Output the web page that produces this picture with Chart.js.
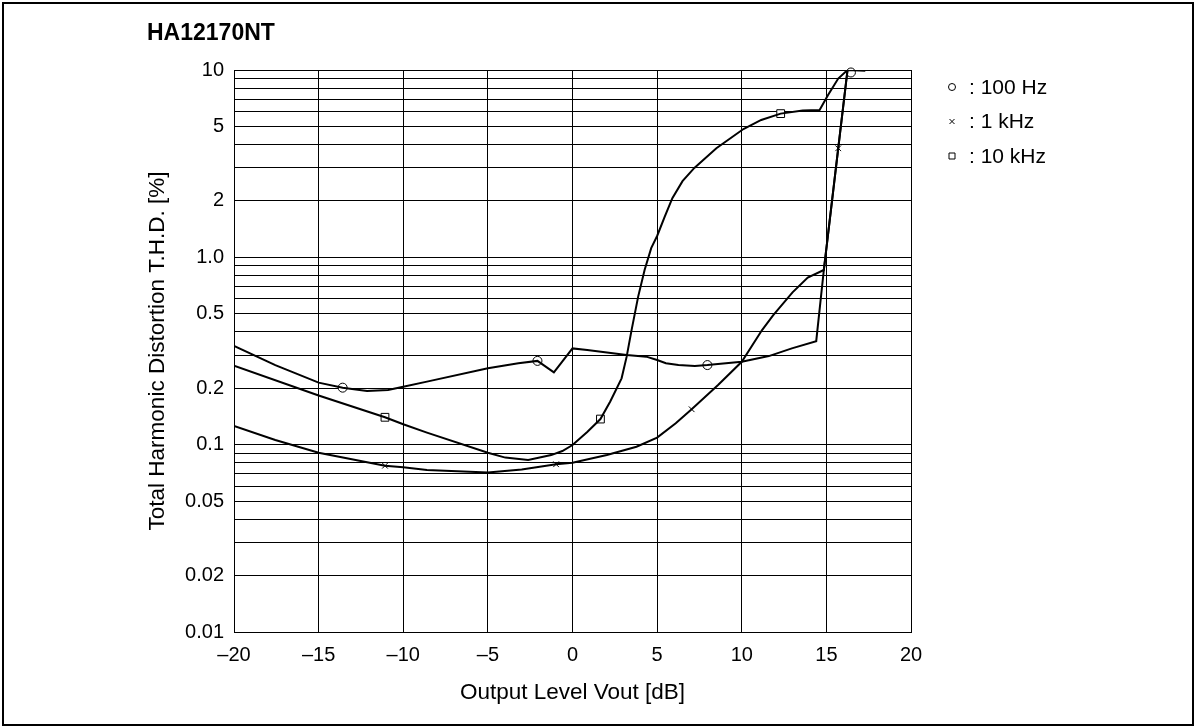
<!DOCTYPE html>
<html>
<head>
<meta charset="utf-8">
<script src="https://cdn.jsdelivr.net/npm/chart.js@4.4.1/dist/chart.umd.min.js"></script>
<style>
  html, body { margin: 0; padding: 0; background: #fff; }
</style>
</head>
<body>
<canvas id="thd" width="1201" height="728"></canvas>
<script>
var chartTitle = "HA12170NT";
var xTitle = "Output Level Vout [dB]";
var yTitle = "Total Harmonic Distortion T.H.D. [%]";

var xTicks = [-20, -15, -10, -5, 0, 5, 10, 15, 20];
var xTickLabels = ["–20", "–15", "–10", "–5", "0", "5", "10", "15", "20"];
var yGrid = [0.01, 0.02, 0.03, 0.04, 0.05, 0.06, 0.07, 0.08, 0.09,
  0.1, 0.2, 0.3, 0.4, 0.5, 0.6, 0.7, 0.8, 0.9,
  1, 2, 3, 4, 5, 6, 7, 8, 9, 10];
var yTicks = [0.01, 0.02, 0.05, 0.1, 0.2, 0.5, 1, 2, 5, 10];
var yTickLabels = ["0.01", "0.02", "0.05", "0.1", "0.2", "0.5", "1.0", "2", "5", "10"];

// curves
var x100 = [-20, -17.56, -15, -13.58, -12.14, -10.9, -10, -8.6, -5, -3.2, -2.07, -1.1, 0, 0.87, 3.2, 4.36, 5, 5.52, 6.26, 7.23, 7.97, 10, 11.6, 12.96, 14.4, 14.85, 15.7, 16.25, 17.3];
var y100 = [0.337, 0.266, 0.2144, 0.2015, 0.1934, 0.196, 0.204, 0.217, 0.2556, 0.272, 0.28, 0.243, 0.3265, 0.32, 0.301, 0.295, 0.283, 0.272, 0.266, 0.263, 0.266, 0.277, 0.297, 0.3265, 0.357, 0.856, 3.82, 10, 9.9];

var x1k = [-20, -17.56, -15, -11.08, -10, -8.6, -5, -3, -0.97, 0, 2.03, 3.78, 5, 6.1, 7.04, 8.6, 10, 11.2, 11.85, 13.0, 13.9, 14.85, 15.7, 16.25];
var y1k = [0.126, 0.106, 0.0906, 0.0772, 0.0757, 0.0732, 0.0711, 0.0738, 0.0786, 0.08, 0.088, 0.0975, 0.109, 0.13, 0.1545, 0.208, 0.277, 0.409, 0.49, 0.65, 0.78, 0.856, 3.82, 10];

var x10k = [-20, -15, -11.08, -10, -8.6, -5, -3.97, -2.62, -1.26, -0.6, 0, 0.87, 1.65, 2.23, 2.9, 3.2, 3.49, 3.88, 4.26, 4.65, 5, 5.45, 5.9, 6.5, 7.2, 8.5, 10.1, 11.15, 12.3, 13.6, 14.6, 15.1, 15.7, 16.25];
var y10k = [0.264, 0.183, 0.14, 0.1285, 0.116, 0.0906, 0.0853, 0.0828, 0.088, 0.0925, 0.0996, 0.117, 0.137, 0.17, 0.226, 0.295, 0.409, 0.617, 0.856, 1.12, 1.3, 1.65, 2.07, 2.55, 3.0, 3.82, 4.84, 5.41, 5.85, 6.07, 6.11, 7.36, 9.0, 10];

// measured points (markers)
var m100x = [-13.58, -2.07, 7.97, 16.45];
var m100y = [0.2015, 0.28, 0.266, 9.7];
var m1kx = [-11.08, -0.97, 7.04, 15.7];
var m1ky = [0.0772, 0.0786, 0.1545, 3.82];
var m10kx = [-11.08, 1.65, 12.3];
var m10ky = [0.14, 0.137, 5.85];

var seriesNames = [": 100 Hz", ": 1 kHz", ": 10 kHz"];

var fontFamily = "'Liberation Sans', Arial, sans-serif";

function pts(xs, ys) {
  return xs.map(function (x, i) { return { x: x, y: ys[i] }; });
}

function curve(xs, ys) {
  return {
    data: pts(xs, ys),
    borderColor: "#000",
    borderWidth: 2,
    pointRadius: 0,
    tension: 0,
    fill: false
  };
}

function markers(xs, ys, label, style, r) {
  return {
    label: label,
    data: pts(xs, ys),
    showLine: false,
    pointStyle: style,
    pointRadius: r,
    pointBorderWidth: 1,
    pointBorderColor: "#000",
    pointBackgroundColor: "#fff",
    clip: false
  };
}

// border, title and legend
var decorPlugin = {
  id: "decor",
  afterDraw: function (chart) {
    var ctx = chart.ctx;
    ctx.save();
    ctx.strokeStyle = "#000";
    ctx.lineWidth = 2;
    ctx.strokeRect(3, 3, 1190, 722);

    ctx.fillStyle = "#000";
    ctx.font = "bold 23px " + fontFamily;
    ctx.textBaseline = "middle";
    ctx.textAlign = "left";
    ctx.fillText(chartTitle, 147, 34);

    ctx.font = "21px " + fontFamily;
    ctx.lineWidth = 1;
    for (var i = 0; i < 3; i++) {
      var ds = chart.data.datasets[3 + i];
      var cy = 87 + i * 34.5;
      var cx = 952;
      ctx.beginPath();
      if (ds.pointStyle === "circle") {
        ctx.arc(cx, cy, 3.5, 0, Math.PI * 2);
      } else if (ds.pointStyle === "crossRot") {
        ctx.moveTo(cx - 2.5, cy - 2.5); ctx.lineTo(cx + 2.5, cy + 2.5);
        ctx.moveTo(cx + 2.5, cy - 2.5); ctx.lineTo(cx - 2.5, cy + 2.5);
      } else {
        ctx.rect(cx - 3, cy - 3, 6, 6);
      }
      ctx.stroke();
      ctx.fillText(ds.label, 969, cy + 1);
    }
    ctx.restore();
  }
};

new Chart(document.getElementById("thd"), {
  type: "line",
  data: {
    datasets: [
      curve(x100, y100),
      curve(x1k, y1k),
      curve(x10k, y10k),
      markers(m100x, m100y, seriesNames[0], "circle", 4.5),
      markers(m1kx, m1ky, seriesNames[1], "crossRot", 4),
      markers(m10kx, m10ky, seriesNames[2], "rect", 5.5)
    ]
  },
  options: {
    responsive: false,
    animation: false,
    layout: { padding: { top: 70, right: 290, bottom: 0, left: 0 } },
    plugins: {
      legend: { display: false },
      tooltip: { enabled: false },
      title: { display: false }
    },
    scales: {
      x: {
        type: "linear",
        min: -20,
        max: 20,
        afterBuildTicks: function (scale) {
          scale.ticks = xTicks.map(function (v) { return { value: v }; });
        },
        afterFit: function (scale) { scale.height = 96; },
        ticks: {
          autoSkip: false,
          maxRotation: 0,
          padding: 11,
          color: "#000",
          font: { family: fontFamily, size: 20 },
          callback: function (value) {
            var i = xTicks.indexOf(value);
            return i < 0 ? "" : xTickLabels[i];
          }
        },
        grid: { color: "#000", lineWidth: 1, drawTicks: false },
        border: { color: "#000", width: 1 },
        title: {
          display: true,
          text: xTitle,
          color: "#000",
          font: { family: fontFamily, size: 22.5 },
          padding: { top: 0, bottom: 21.5 }
        }
      },
      y: {
        type: "logarithmic",
        min: 0.01,
        max: 10,
        afterBuildTicks: function (scale) {
          scale.ticks = yGrid.map(function (v) { return { value: v }; });
        },
        afterFit: function (scale) { scale.width = 234; },
        ticks: {
          autoSkip: false,
          padding: 10,
          color: "#000",
          font: { family: fontFamily, size: 20 },
          callback: function (value) {
            var i = yTicks.indexOf(value);
            return i < 0 ? "" : yTickLabels[i];
          }
        },
        grid: { color: "#000", lineWidth: 1, drawTicks: false },
        border: { color: "#000", width: 1 },
        title: {
          display: true,
          text: yTitle,
          color: "#000",
          font: { family: fontFamily, size: 22.5 },
          padding: { top: 144.5, bottom: 0 }
        }
      }
    }
  },
  plugins: [decorPlugin]
});
</script>
</body>
</html>
